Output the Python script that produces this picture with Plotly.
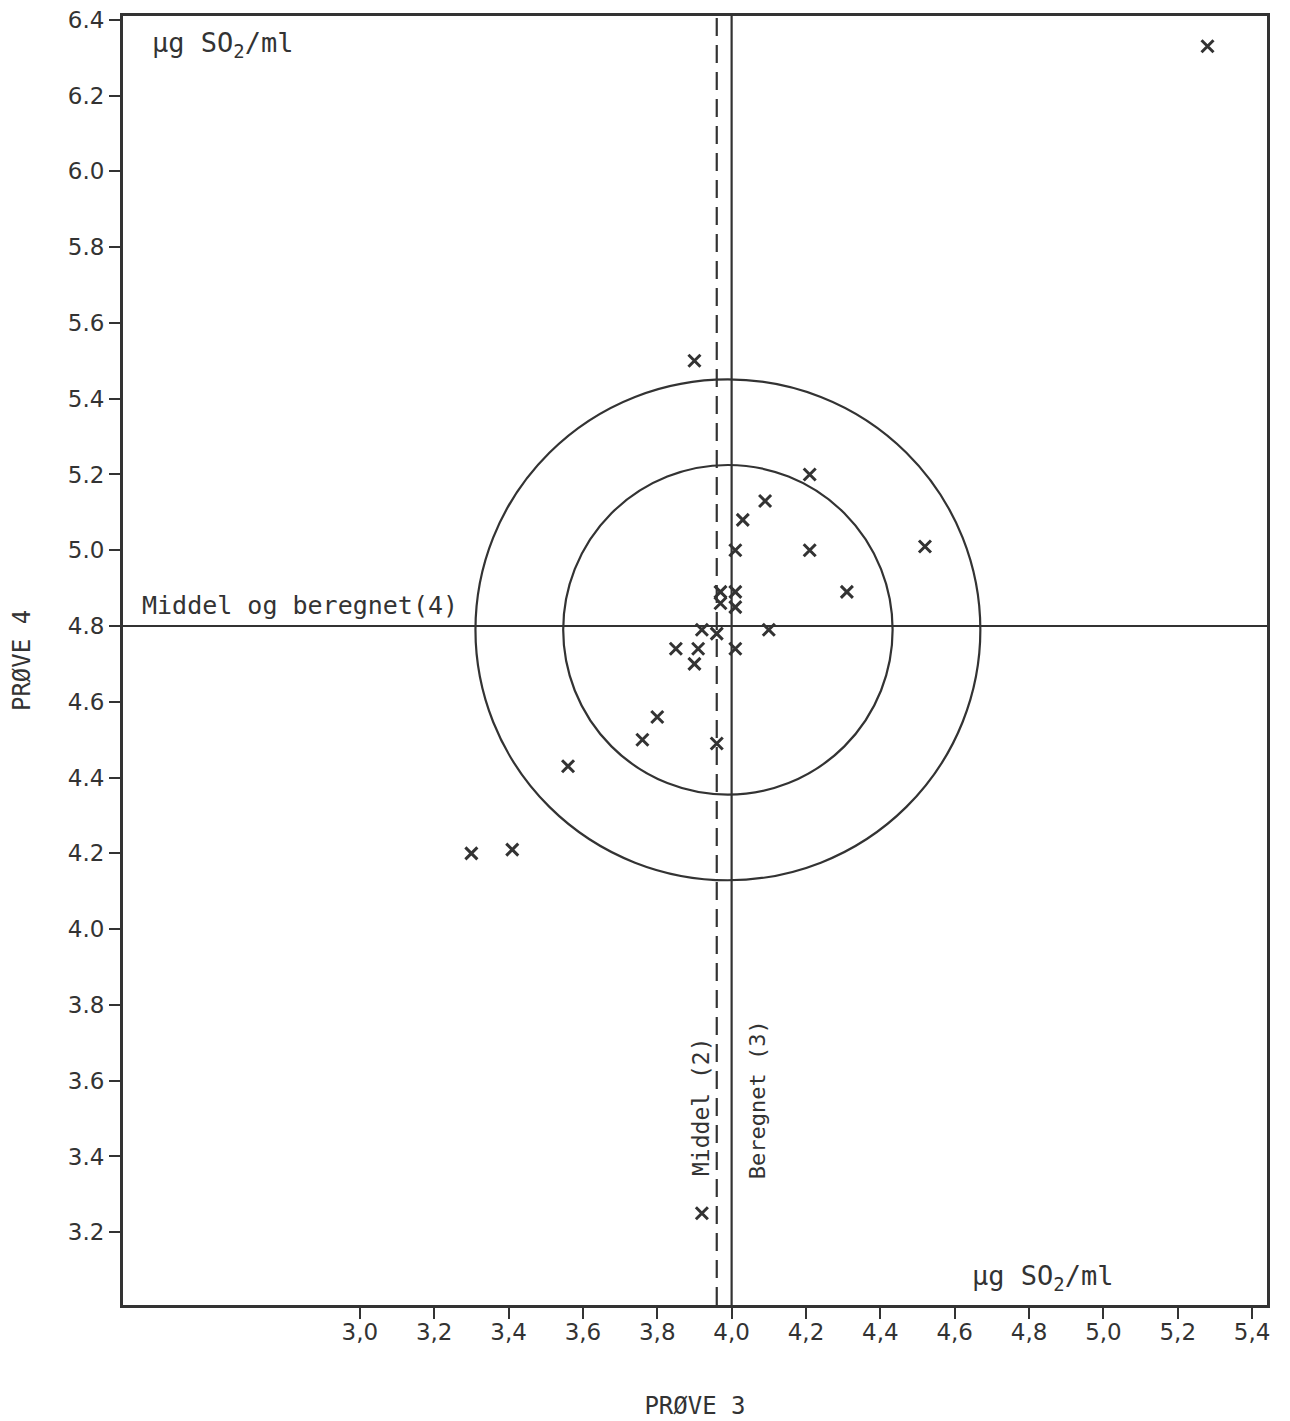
import plotly.graph_objects as go

# ---- data ----
prove3 = [5.28, 3.90, 4.21, 4.09, 4.03, 4.01, 4.21, 4.52, 4.31, 3.97, 3.97, 4.01, 4.01,
          3.92, 3.96, 4.10, 3.85, 3.91, 4.01, 3.90, 3.80, 3.76, 3.96, 3.56, 3.30, 3.41, 3.92]
prove4 = [6.33, 5.50, 5.20, 5.13, 5.08, 5.00, 5.00, 5.01, 4.89, 4.89, 4.86, 4.89, 4.85,
          4.79, 4.78, 4.79, 4.74, 4.74, 4.74, 4.70, 4.56, 4.50, 4.49, 4.43, 4.20, 4.21, 3.25]

middel_3 = 3.96        # Middel (2)
beregnet_3 = 4.00      # Beregnet (3)
middel_beregnet_4 = 4.80  # Middel og beregnet (4)

circle_center = (3.99, 4.79)
outer_radius = (0.679, 0.661)
inner_radius = (0.443, 0.435)

x_ticks = [3.0, 3.2, 3.4, 3.6, 3.8, 4.0, 4.2, 4.4, 4.6, 4.8, 5.0, 5.2, 5.4]
x_ticktext = ["3,0", "3,2", "3,4", "3,6", "3,8", "4,0", "4,2", "4,4", "4,6", "4,8", "5,0", "5,2", "5,4"]
y_ticks = [3.2, 3.4, 3.6, 3.8, 4.0, 4.2, 4.4, 4.6, 4.8, 5.0, 5.2, 5.4, 5.6, 5.8, 6.0, 6.2, 6.4]
y_ticktext = ["3.2", "3.4", "3.6", "3.8", "4.0", "4.2", "4.4", "4.6", "4.8", "5.0",
              "5.2", "5.4", "5.6", "5.8", "6.0", "6.2", "6.4"]

INK = "#333333"
FONT = "DejaVu Sans"
MONO = "DejaVu Sans Mono"

fig = go.Figure()

fig.add_trace(go.Scatter(
    x=prove3, y=prove4, mode="markers",
    marker=dict(symbol="x-thin", size=12, line=dict(width=3, color=INK), color=INK),
    showlegend=False, hoverinfo="x+y"))

# circles
for r in (outer_radius, inner_radius):
    fig.add_shape(type="circle", xref="x", yref="y",
                  x0=circle_center[0] - r[0], x1=circle_center[0] + r[0],
                  y0=circle_center[1] - r[1], y1=circle_center[1] + r[1],
                  line=dict(color=INK, width=2.2), layer="below")

# reference lines
fig.add_shape(type="line", xref="x", yref="y domain", x0=beregnet_3, x1=beregnet_3, y0=0, y1=1,
              line=dict(color=INK, width=2.2), layer="below")
fig.add_shape(type="line", xref="x", yref="y domain", x0=middel_3, x1=middel_3, y0=0, y1=1,
              line=dict(color=INK, width=2.2, dash="18px,9px"), layer="below")
fig.add_shape(type="line", xref="x domain", yref="y", x0=0, x1=1, y0=middel_beregnet_4, y1=middel_beregnet_4,
              line=dict(color=INK, width=2.2), layer="below")

unit_font = dict(family=MONO, size=27, color=INK)
fig.add_annotation(x=2.435, y=6.335, xref="x", yref="y", text="μg SO<sub>2</sub>/ml",
                   showarrow=False, xanchor="left", yanchor="middle", font=unit_font)
fig.add_annotation(x=4.64, y=3.08, xref="x", yref="y", text="μg SO<sub>2</sub>/ml",
                   showarrow=False, xanchor="left", yanchor="middle", font=unit_font)
fig.add_annotation(x=2.41, y=4.855, xref="x", yref="y", text="Middel og beregnet(4)",
                   showarrow=False, xanchor="left", yanchor="middle",
                   font=dict(family=MONO, size=25, color=INK))
fig.add_annotation(x=3.917, y=3.53, xref="x", yref="y", text="Middel (2)", textangle=-90,
                   showarrow=False, xanchor="center", yanchor="middle",
                   font=dict(family=MONO, size=23, color=INK))
fig.add_annotation(x=4.07, y=3.55, xref="x", yref="y", text="Beregnet (3)", textangle=-90,
                   showarrow=False, xanchor="center", yanchor="middle",
                   font=dict(family=MONO, size=22, color=INK))

axis_common = dict(showgrid=False, zeroline=False, showline=True, linecolor=INK, linewidth=3,
                   mirror=True, ticks="outside", ticklen=11, tickwidth=2.2, tickcolor=INK,
                   automargin=False, ticklabeloverflow="allow",
                   tickfont=dict(family=FONT, size=23, color=INK))

fig.update_xaxes(range=[2.363, 5.44], tickvals=x_ticks, ticktext=x_ticktext,
                 ticklabelstandoff=-7,
                 title=dict(text="PRØVE 3", font=dict(family=MONO, size=24, color=INK), standoff=54),
                 **axis_common)
fig.update_yaxes(range=[3.008, 6.41], tickvals=y_ticks, ticktext=y_ticktext,
                 title=dict(text="PRØVE 4", font=dict(family=MONO, size=24, color=INK), standoff=33),
                 **axis_common)

fig.update_layout(width=1282, height=1413,
                  margin=dict(l=115, r=23, t=8, b=116),
                  plot_bgcolor="white", paper_bgcolor="white",
                  font=dict(family=FONT, color=INK))

fig.write_html("out.html")
